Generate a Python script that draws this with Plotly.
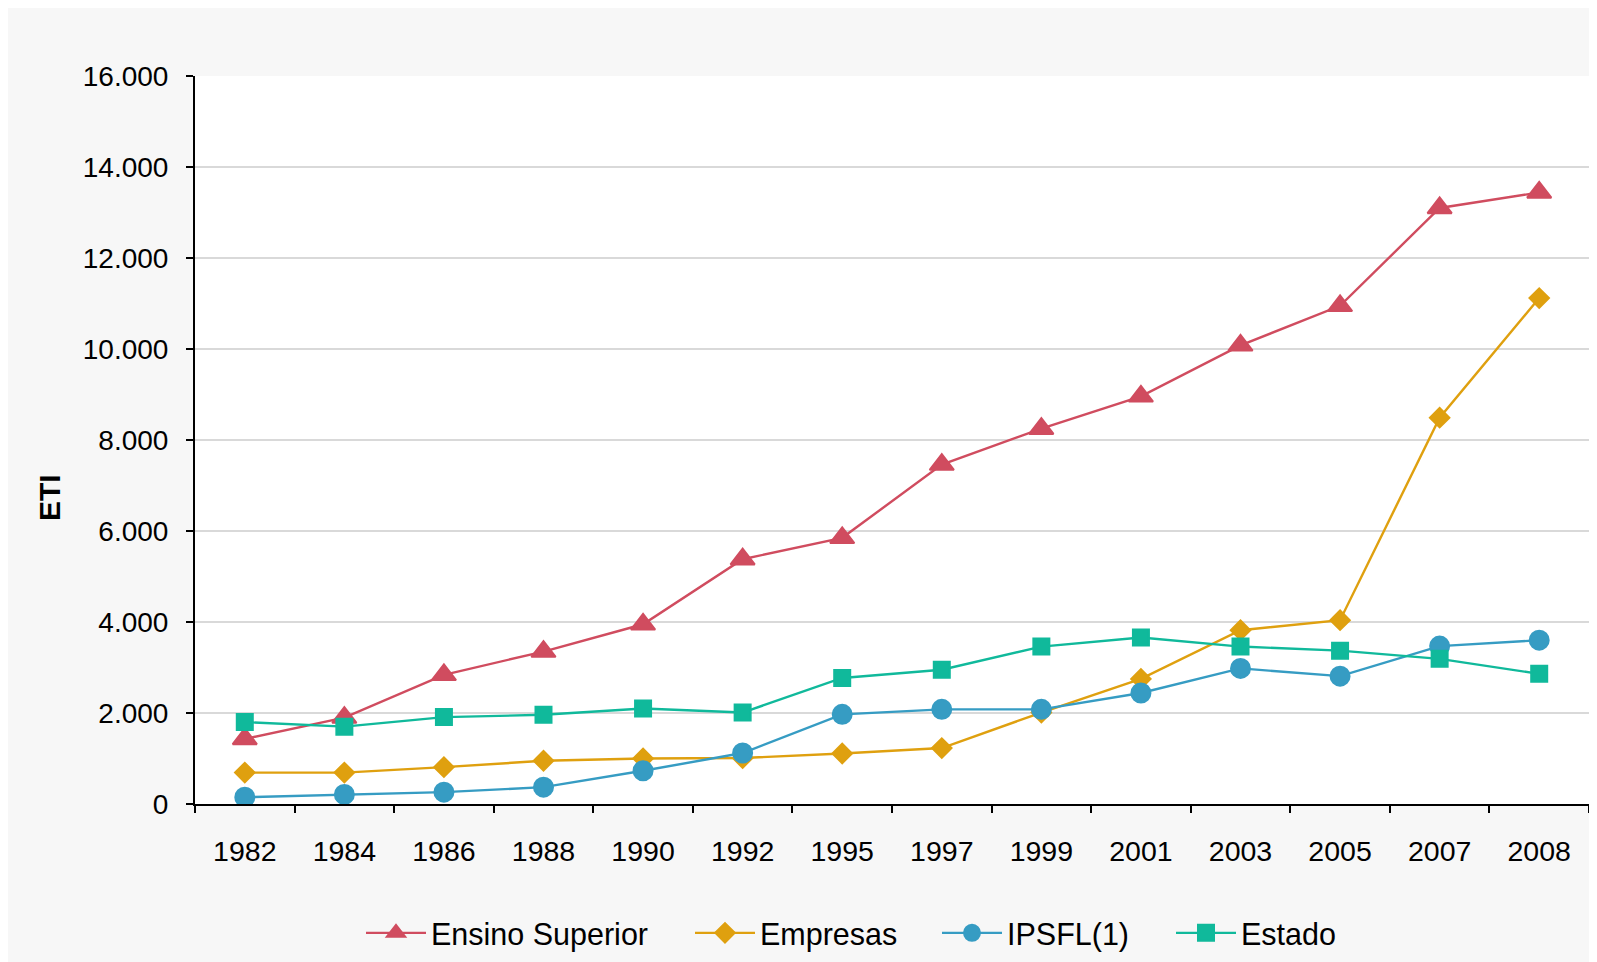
import plotly.graph_objects as go

years = ["1982", "1984", "1986", "1988", "1990", "1992", "1995", "1997",
         "1999", "2001", "2003", "2005", "2007", "2008"]
ensino_superior = [1430, 1900, 2840, 3350, 3950, 5380, 5850, 7460, 8250, 8960, 10080, 10950, 13100, 13440]
empresas = [690, 690, 810, 950, 1000, 1010, 1110, 1230, 2010, 2750, 3820, 4040, 8490, 11120]
ipsfl = [150, 210, 260, 370, 730, 1120, 1970, 2080, 2080, 2440, 2980, 2810, 3470, 3600]
estado = [1800, 1700, 1910, 1960, 2100, 2010, 2770, 2950, 3460, 3660, 3460, 3370, 3190, 2860]

y_ticks = [0, 2000, 4000, 6000, 8000, 10000, 12000, 14000, 16000]

# figure is placed by the page at (8, 8); sizes are in figure pixels
W, H = 1589, 954
ML, MR, MT, MB = 187, 8, 68, 158
PW, PH = W - ML - MR, H - MT - MB


def px_x(p):
    return (p - ML) / PW


def px_y(p):
    return (H - MB - p) / PH


series = [
    ("Ensino Superior", ensino_superior, "#D04C5F", "triangle-up", 21, "legend"),
    ("Empresas", empresas, "#DFA00F", "diamond", 15, "legend2"),
    ("IPSFL(1)", ipsfl, "#369CC3", "circle", 19, "legend3"),
    ("Estado", estado, "#10B99B", "square", 16, "legend4"),
]

fig = go.Figure()
for name, vals, col, sym, sz, lg in series:
    fig.add_trace(go.Scatter(
        x=years, y=vals, name=name, mode="lines+markers",
        line=dict(color=col, width=2.4),
        marker=dict(symbol=sym, size=sz, color=col, line=dict(width=2, color=col)),
        legend=lg, showlegend=True,
    ))

FONT = "Liberation Sans, Arial, sans-serif"
leg_common = dict(
    yanchor="middle", y=px_y(925), xanchor="left",
    bgcolor="rgba(0,0,0,0)", borderwidth=0, itemwidth=60,
    font=dict(family=FONT, size=30.5, color="#000000"),
    visible=True,
)
leg_x = [353, 682, 929, 1163]

fig.update_layout(
    width=W, height=H,
    margin=dict(l=ML, r=MR, t=MT, b=MB, autoexpand=False),
    paper_bgcolor="#f7f7f7",
    plot_bgcolor="#ffffff",
    separators=",.",
    showlegend=True,
    font=dict(family=FONT, color="#000000"),
    legend=dict(x=px_x(leg_x[0]), **leg_common),
    legend2=dict(x=px_x(leg_x[1]), **leg_common),
    legend3=dict(x=px_x(leg_x[2]), **leg_common),
    legend4=dict(x=px_x(leg_x[3]), **leg_common),
    xaxis=dict(
        type="category", range=[-0.5, len(years) - 0.5],
        tickson="boundaries", ticks="outside", ticklen=7, tickwidth=1.5,
        tickcolor="#000000", showgrid=False, showline=True,
        linecolor="#000000", linewidth=2, zeroline=False,
        tickfont=dict(family=FONT, size=28.5, color="#000000"),
        ticklabelstandoff=21,
    ),
    yaxis=dict(
        range=[0, 16000], tickvals=y_ticks, tickformat=",d",
        ticks="outside", ticklen=7, tickwidth=1.5, tickcolor="#000000",
        showgrid=True, gridcolor="#d9d9d9", gridwidth=1.5,
        showline=True, linecolor="#000000", linewidth=2, zeroline=False,
        tickfont=dict(family=FONT, size=28, color="#000000"),
        ticklabelstandoff=12,
    ),
    annotations=[
        dict(text="<b>ETI</b>", xref="paper", yref="paper",
             x=px_x(42), y=px_y(490), xanchor="center", yanchor="middle",
             textangle=-90, showarrow=False,
             font=dict(family=FONT, size=30, color="#000000")),
    ],
)

fig.write_html("out.html")
